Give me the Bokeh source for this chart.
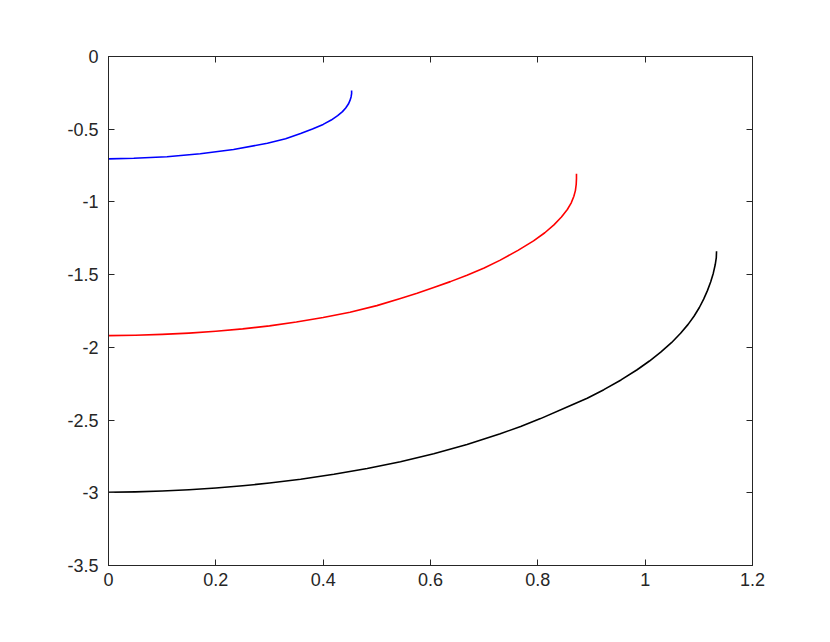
from bokeh.plotting import figure
from bokeh.models import Range1d, FixedTicker, LinearAxis
from bokeh.embed import file_html
from bokeh.resources import INLINE

# ---- data ----
blue_x = [0.0, 0.047, 0.109, 0.171, 0.233, 0.296, 0.330, 0.358, 0.380, 0.400, 0.415,
          0.427, 0.436, 0.442, 0.447, 0.450, 0.452, 0.453, 0.453]
blue_y = [-0.704, -0.700, -0.689, -0.669, -0.639, -0.597, -0.566, -0.530, -0.499, -0.467, -0.437,
          -0.407, -0.379, -0.354, -0.327, -0.302, -0.278, -0.256, -0.234]

red_x = [0.0, 0.05, 0.10, 0.15, 0.20, 0.25, 0.30, 0.35, 0.40, 0.45, 0.50, 0.544, 0.575, 0.606,
         0.637, 0.668, 0.700, 0.730, 0.763, 0.792, 0.813, 0.830, 0.844, 0.855, 0.862, 0.867,
         0.870, 0.8715, 0.872, 0.872]
red_y = [-1.919, -1.917, -1.911, -1.902, -1.889, -1.873, -1.852, -1.826, -1.795, -1.758, -1.713,
         -1.664, -1.628, -1.589, -1.548, -1.504, -1.454, -1.400, -1.333, -1.268, -1.212, -1.158,
         -1.104, -1.052, -1.008, -0.963, -0.922, -0.880, -0.840, -0.807]

black_x = [0.0, 0.05, 0.10, 0.15, 0.20, 0.25, 0.30, 0.358, 0.420, 0.482, 0.544, 0.606, 0.668,
           0.730, 0.768, 0.805, 0.861, 0.892, 0.923, 0.955, 0.985, 1.008, 1.029, 1.049, 1.066,
           1.080, 1.091, 1.101, 1.109, 1.116, 1.122, 1.127, 1.1305, 1.1325, 1.133]
black_y = [-2.996, -2.994, -2.988, -2.979, -2.967, -2.952, -2.933, -2.907, -2.873, -2.833, -2.786,
           -2.732, -2.668, -2.594, -2.544, -2.490, -2.400, -2.350, -2.291, -2.224, -2.154, -2.094,
           -2.033, -1.968, -1.903, -1.842, -1.786, -1.726, -1.668, -1.610, -1.550, -1.490, -1.432,
           -1.385, -1.339]

x_ticks = [0, 0.2, 0.4, 0.6, 0.8, 1.0, 1.2]
x_labels = ["0", "0.2", "0.4", "0.6", "0.8", "1", "1.2"]
y_ticks = [0, -0.5, -1, -1.5, -2, -2.5, -3, -3.5]
y_labels = ["0", "-0.5", "-1", "-1.5", "-2", "-2.5", "-3", "-3.5"]

AX = "#262626"
FONT = "Liberation Sans"

p = figure(width=814, height=626, output_backend="svg", toolbar_location=None,
           x_range=Range1d(0, 1.2), y_range=Range1d(-3.5, 0),
           x_axis_location=None, y_axis_location=None,
           min_border_left=108, min_border_right=62, min_border_top=56, min_border_bottom=61)
p.xgrid.visible = False
p.ygrid.visible = False
p.outline_line_color = AX
p.outline_line_width = 1
p.background_fill_color = "white"
p.border_fill_color = "white"


def style(ax, ticks, labels, show_labels):
    ax.ticker = FixedTicker(ticks=ticks)
    ax.major_label_overrides = {t: l for t, l in zip(ticks, labels)}
    ax.minor_tick_line_color = None
    ax.major_tick_in = 6
    ax.major_tick_out = 0
    ax.axis_line_color = AX
    ax.major_tick_line_color = AX
    ax.major_label_text_font = FONT
    ax.major_label_text_font_size = "18px"
    ax.major_label_text_color = AX if show_labels else None
    ax.major_label_standoff = 7


bottom = LinearAxis()
style(bottom, x_ticks, x_labels, True)
p.add_layout(bottom, "below")
top = LinearAxis()
style(top, x_ticks, x_labels, False)
top.major_label_text_font_size = "0px"
p.add_layout(top, "above")
left = LinearAxis()
style(left, y_ticks, y_labels, True)
left.major_label_standoff = 10
p.add_layout(left, "left")
right = LinearAxis()
style(right, y_ticks, y_labels, False)
right.major_label_text_font_size = "0px"
p.add_layout(right, "right")

p.line(blue_x, blue_y, line_color="#0000ff", line_width=1.6, line_join="round")
p.line(red_x, red_y, line_color="#ff0000", line_width=1.6, line_join="round")
p.line(black_x, black_y, line_color="#000000", line_width=1.6, line_join="round")

open("out.html", "w").write(file_html(p, INLINE))
